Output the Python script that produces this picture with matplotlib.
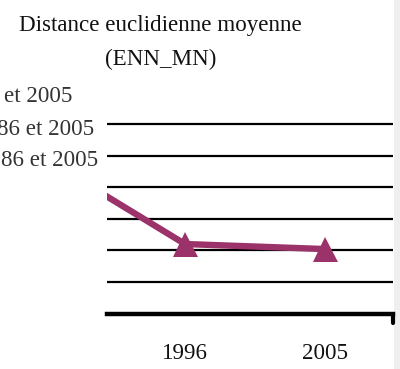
import matplotlib
matplotlib.use("Agg")
import matplotlib.pyplot as plt
from matplotlib.lines import Line2D
from matplotlib.patches import Rectangle

# Data
years = ["1986", "1996", "2005"]
enn_mn = [49.0, 22.0, 20.4]
legend_lines = ["et 2005", "86 et 2005", "86 et 2005"]
title_lines = ["Distance euclidienne moyenne", "(ENN_MN)"]

W, H = 400, 369
fig = plt.figure(figsize=(W / 100, H / 100), dpi=100)
fig.patch.set_facecolor("white")

serif = ["Liberation Serif", "DejaVu Serif"]
fs = 16.6

# axes placement (pixels)
x0, x1 = 107, 393
y_axis, y_top = 313.5, 124.0
unit = (y_axis - y_top) / 60.0
ymax = 62.0
top_px = y_axis - ymax * unit
ax = fig.add_axes([x0 / W, (H - y_axis) / H, (x1 - x0) / W, (y_axis - top_px) / H])
ax.set_facecolor("none")

xpos = list(range(len(years)))
ax.plot(xpos, enn_mn, color="#9B3269", lw=4.6, marker="^", ms=18,
        markeredgewidth=0, solid_joinstyle="miter", zorder=3)

ax.set_ylim(0, ymax)
ax.set_xlim(1 - 78 / 140, 2 + 68 / 140)
ax.set_yticks([10, 20, 30, 40, 50, 60])
ax.yaxis.grid(True, color="black", lw=1.6)
ax.tick_params(axis="y", length=0, labelleft=False)
ax.set_xticks(xpos[1:])
ax.set_xticklabels(years[1:], fontfamily=serif, fontsize=fs, color="#111111")
ax.tick_params(axis="x", length=0, pad=21)
for s in ["top", "left", "right"]:
    ax.spines[s].set_visible(False)
ax.spines["bottom"].set_linewidth(3.2)
ax.spines["bottom"].set_color("black")
ax.set_axisbelow(True)

# end tick at the right of the category axis
ax.add_line(Line2D([1, 1], [0, -0.05], transform=ax.transAxes, color="black",
                   lw=3, solid_capstyle="round", clip_on=False))

# title
fig.text(160 / W, 1 - 25 / H, title_lines[0], ha="center", va="center",
         fontfamily=serif, fontsize=fs, color="#111111")
fig.text(161 / W, 1 - 59 / H, title_lines[1], ha="center", va="center",
         fontfamily=serif, fontsize=fs, color="#111111")

# legend entries
for txt, xe, yc in zip(legend_lines, [72, 94, 98], [96, 130, 160]):
    fig.text(xe / W, 1 - yc / H, txt, ha="right", va="center",
             fontfamily=serif, fontsize=fs, color="#333333")

# grey page margin on the right
fig.patches.append(Rectangle((394 / W, 0), 6 / W, 1, transform=fig.transFigure,
                             facecolor="#EFEFEF", edgecolor="none", zorder=-1))

fig.savefig("out.png", dpi=100, facecolor="white")
